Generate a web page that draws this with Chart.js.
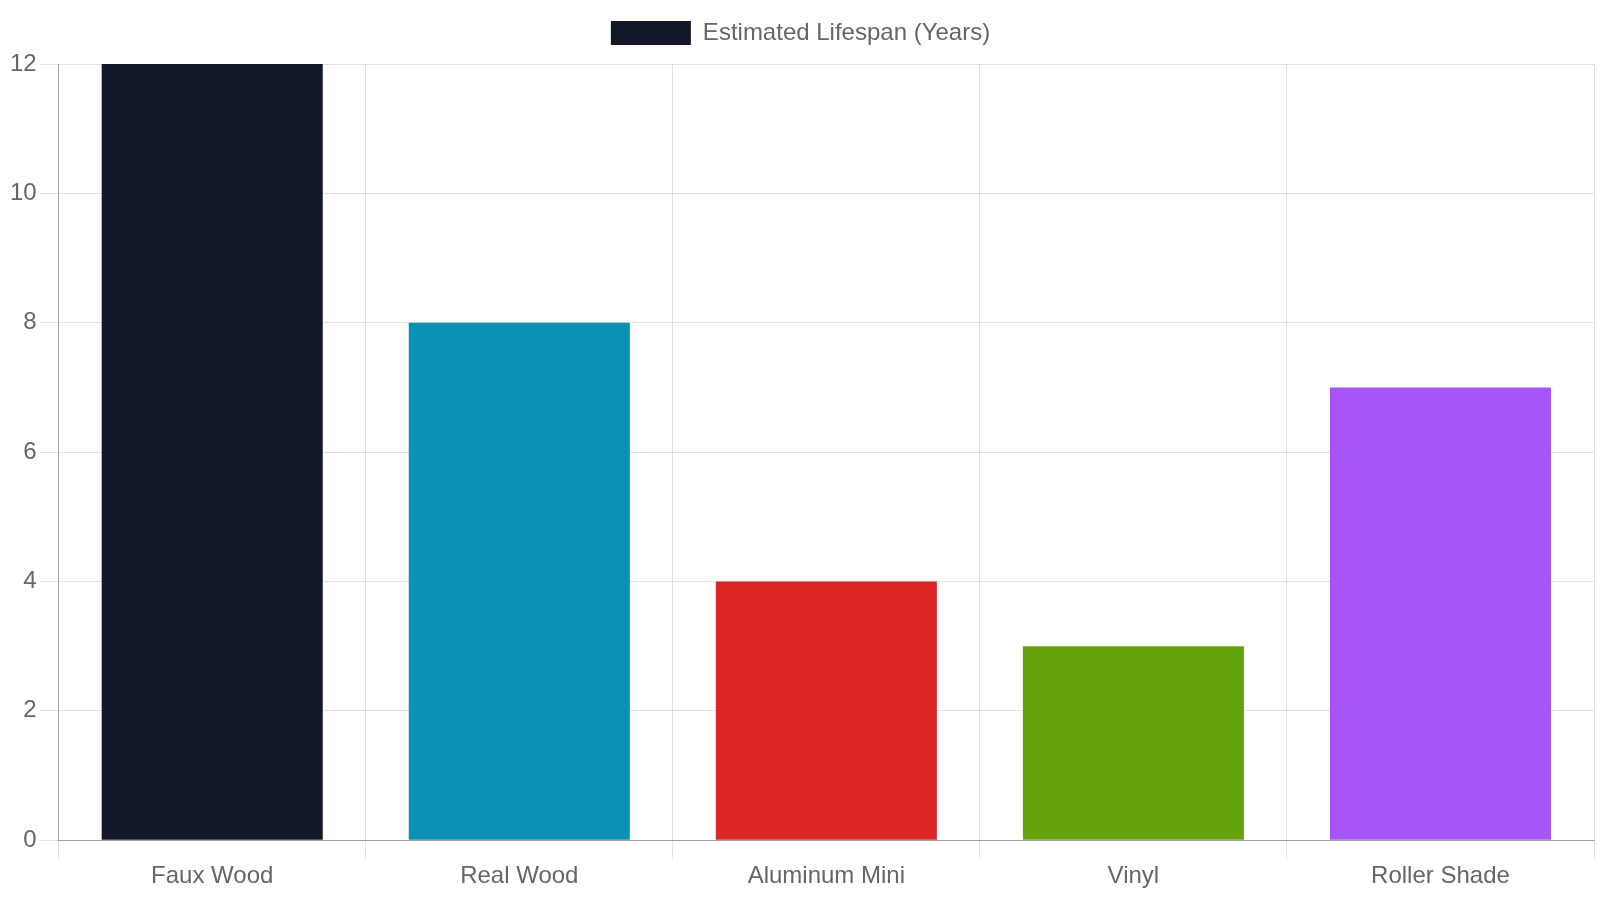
<!DOCTYPE html>
<html>
<head>
<meta charset="utf-8">
<script src="https://cdn.jsdelivr.net/npm/chart.js@4"></script>
<style>
    html, body { margin: 0; padding: 0; background: #fff; }
    #wrap { width: 1600px; height: 900px; }
</style>
</head>
<body>
<div id="wrap"><canvas id="lifespanChart"></canvas></div>
<script>
// Data
const blindTypes = ['Faux Wood', 'Real Wood', 'Aluminum Mini', 'Vinyl', 'Roller Shade'];
const lifespanYears = [12, 8, 4, 3, 7];
const barColors = ['#111827', '#0891b2', '#dc2626', '#65a30d', '#a855f7'];
const yTicks = [0, 2, 4, 6, 8, 10, 12];

Chart.defaults.font.family = '"Liberation Sans", Arial, sans-serif';
Chart.defaults.font.size = 24;
Chart.defaults.color = '#666';

// a bit of extra room under the legend
const legendMargin = {
    id: 'legendMargin',
    beforeInit(chart) {
        const fit = chart.legend.fit;
        chart.legend.fit = function fitWithMargin() {
            fit.bind(chart.legend)();
            this.height += 9;
        };
    },
};

const ctx = document.getElementById('lifespanChart').getContext('2d');

// eslint-disable-next-line no-new
new Chart(ctx, {
    type: 'bar',
    data: {
        labels: blindTypes,
        datasets: [
            {
                label: 'Estimated Lifespan (Years)',
                data: lifespanYears,
                backgroundColor: barColors,
                borderWidth: 0,
            },
        ],
    },
    plugins: [legendMargin],
    options: {
        responsive: true,
        maintainAspectRatio: false,
        animation: false,
        layout: {
            padding: { top: 11, right: 6, bottom: 6, left: 7 },
        },
        plugins: {
            legend: {
                labels: {
                    boxWidth: 80,
                    boxHeight: 24,
                },
            },
            tooltip: { enabled: false },
        },
        scales: {
            x: {
                grid: { tickLength: 19, color: 'rgba(0,0,0,0.11)' },
                border: { color: 'rgba(0,0,0,0.3)' },
            },
            y: {
                beginAtZero: true,
                min: yTicks[0],
                max: yTicks[yTicks.length - 1],
                ticks: { stepSize: 2 },
                grid: { tickLength: 19, color: 'rgba(0,0,0,0.11)' },
                border: { color: 'rgba(0,0,0,0.3)' },
            },
        },
    },
});
</script>
</body>
</html>
